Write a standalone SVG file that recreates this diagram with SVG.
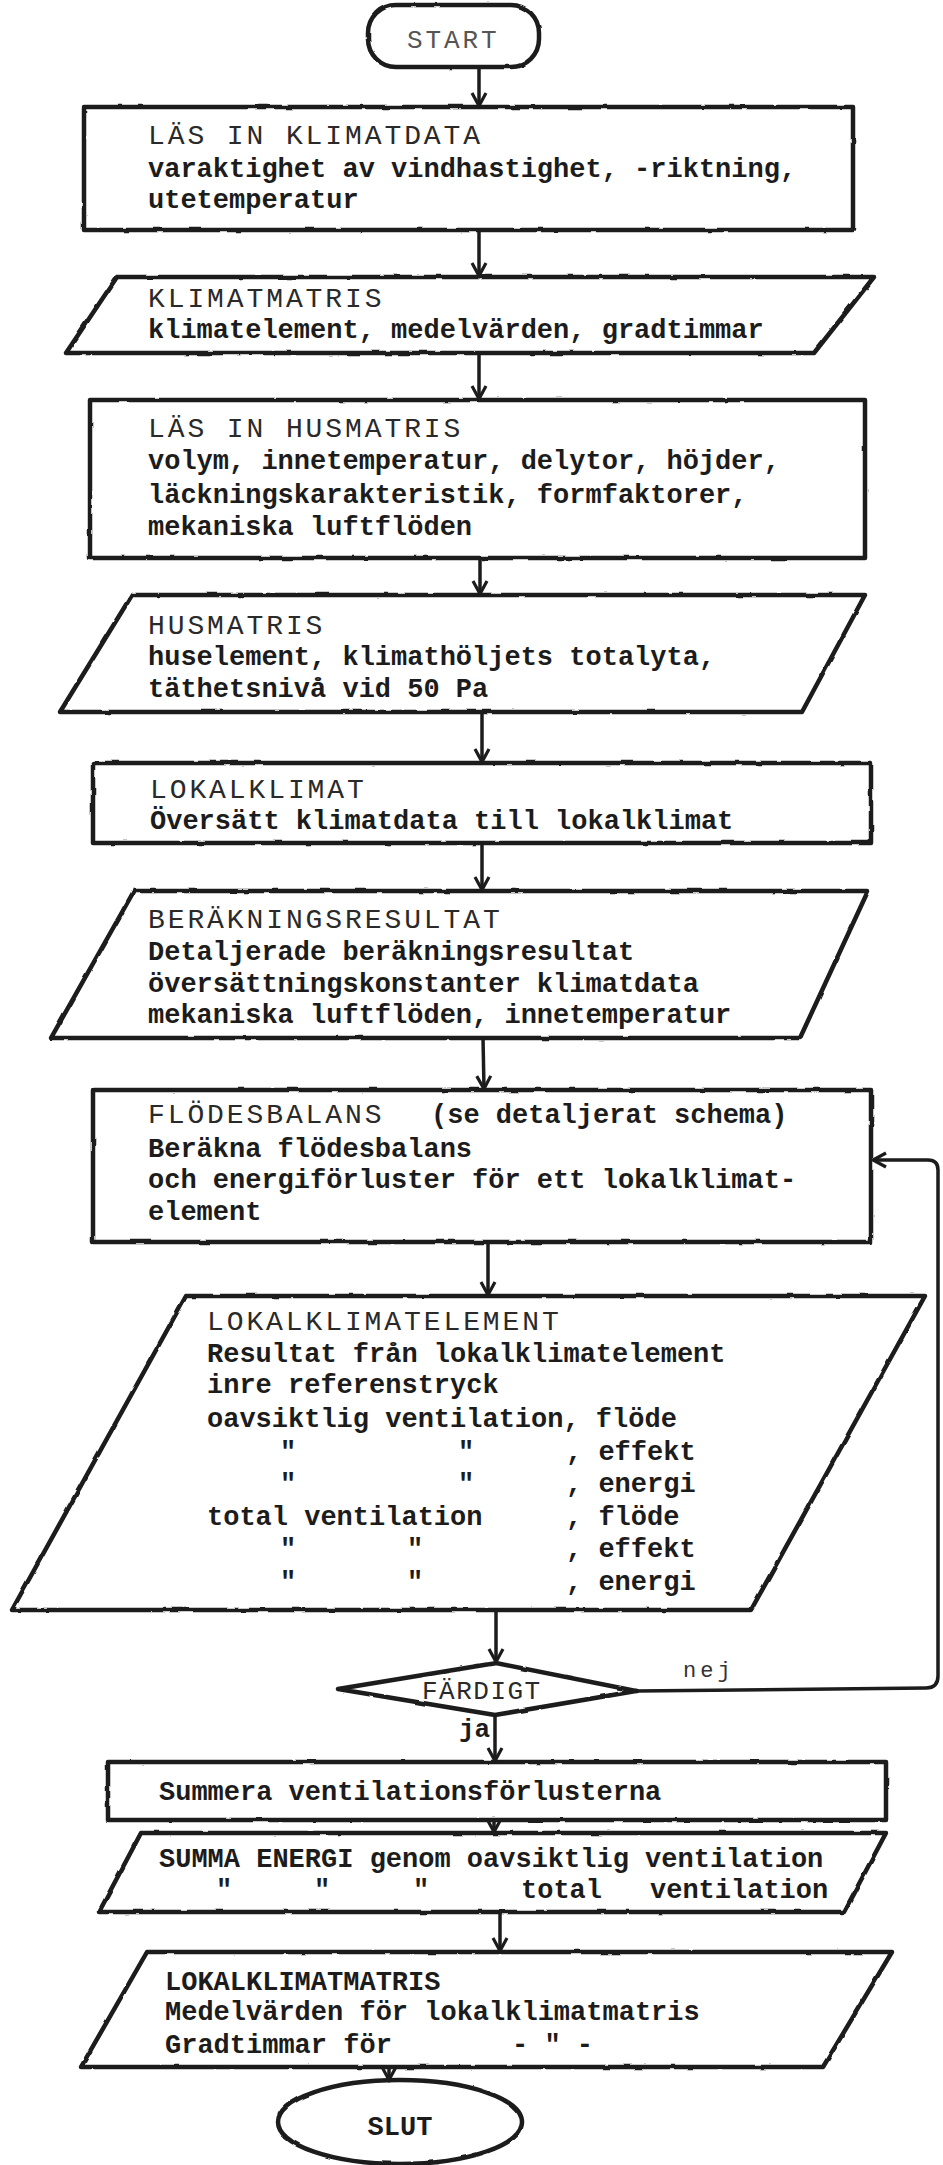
<svg xmlns="http://www.w3.org/2000/svg" width="943" height="2165" viewBox="0 0 943 2165">
<style>
.shape{fill:#fff;stroke:#1c1c1c;stroke-width:4.5;stroke-linejoin:round}
.cap{font-family:"Liberation Mono","Courier New",monospace;font-size:28px;letter-spacing:2.9px;fill:#2a2a2a}
.txt{font-family:"Liberation Mono","Courier New",monospace;font-size:27px;font-weight:bold;fill:#1c1c1c}
.thin{font-family:"Liberation Mono","Courier New",monospace;fill:#333}
.conn{fill:none;stroke:#1c1c1c;stroke-width:3.5}
</style>
<defs>
<filter id="rough" x="-5%" y="-5%" width="110%" height="110%">
<feTurbulence type="fractalNoise" baseFrequency="0.06" numOctaves="2" seed="3"/>
<feDisplacementMap in="SourceGraphic" scale="2.5" xChannelSelector="R" yChannelSelector="G"/>
</filter>
<marker id="arr" markerUnits="userSpaceOnUse" markerWidth="22" markerHeight="22" refX="15" refY="9" orient="auto">
<path d="M2,2 L15,9 L2,16" fill="none" stroke="#1c1c1c" stroke-width="3.2"/>
</marker>
</defs>
<rect width="943" height="2165" fill="#fff"/>

<g id="start">
<rect class="shape" x="368" y="5" width="171" height="62" rx="28" filter="url(#rough)"/>
<text class="cap" x="407" y="48" style="font-size:26px;fill:#555">START</text>
</g>

<g id="las-klimatdata">
<rect class="shape" x="84" y="107" width="769" height="123" filter="url(#rough)"/>
<text class="cap" x="148" y="144">LÄS IN KLIMATDATA</text>
<text class="txt" x="148" y="177">varaktighet av vindhastighet, -riktning,</text>
<text class="txt" x="148" y="208">utetemperatur</text>
</g>

<g id="klimatmatris">
<polygon class="shape" points="117,277 874,277 814,353 66,353" filter="url(#rough)"/>
<text class="cap" x="148" y="307">KLIMATMATRIS</text>
<text class="txt" x="148" y="338">klimatelement, medelvärden, gradtimmar</text>
</g>

<g id="las-husmatris">
<rect class="shape" x="90" y="400" width="775" height="158" filter="url(#rough)"/>
<text class="cap" x="148" y="437">LÄS IN HUSMATRIS</text>
<text class="txt" x="148" y="469">volym, innetemperatur, delytor, höjder,</text>
<text class="txt" x="148" y="503">läckningskarakteristik, formfaktorer,</text>
<text class="txt" x="148" y="535">mekaniska luftflöden</text>
</g>

<g id="husmatris">
<polygon class="shape" points="132,595 865,595 802,712 60,712" filter="url(#rough)"/>
<text class="cap" x="148" y="634">HUSMATRIS</text>
<text class="txt" x="148" y="665">huselement, klimathöljets totalyta,</text>
<text class="txt" x="148" y="697">täthetsnivå vid 50 Pa</text>
</g>

<g id="lokalklimat">
<rect class="shape" x="93" y="763" width="778" height="80" filter="url(#rough)"/>
<text class="cap" x="150" y="798">LOKALKLIMAT</text>
<text class="txt" x="150" y="829">Översätt klimatdata till lokalklimat</text>
</g>

<g id="berakningsresultat">
<polygon class="shape" points="134,891 868,891 800,1038 51,1038" filter="url(#rough)"/>
<text class="cap" x="148" y="928">BERÄKNINGSRESULTAT</text>
<text class="txt" x="148" y="960">Detaljerade beräkningsresultat</text>
<text class="txt" x="148" y="992">översättningskonstanter klimatdata</text>
<text class="txt" x="148" y="1023">mekaniska luftflöden, innetemperatur</text>
</g>

<g id="flodesbalans">
<rect class="shape" x="93" y="1090" width="778" height="152" filter="url(#rough)"/>
<text class="cap" x="148" y="1123">FLÖDESBALANS</text>
<text class="txt" x="431" y="1123">(se detaljerat schema)</text>
<text class="txt" x="148" y="1157">Beräkna flödesbalans</text>
<text class="txt" x="148" y="1188">och energiförluster för ett lokalklimat-</text>
<text class="txt" x="148" y="1220">element</text>
</g>

<g id="lokalklimatelement">
<polygon class="shape" points="186,1296 925,1296 751,1610 12,1610" filter="url(#rough)"/>
<text class="cap" x="207" y="1330">LOKALKLIMATELEMENT</text>
<text class="txt" x="207" y="1362">Resultat från lokalklimatelement</text>
<text class="txt" x="207" y="1393">inre referenstryck</text>
<text class="txt" x="207" y="1427">oavsiktlig ventilation, flöde</text>
<text class="txt" y="1460"><tspan x="280">"</tspan><tspan x="458">"</tspan><tspan x="566">, effekt</tspan></text>
<text class="txt" y="1492"><tspan x="280">"</tspan><tspan x="458">"</tspan><tspan x="566">, energi</tspan></text>
<text class="txt" y="1525"><tspan x="207">total ventilation</tspan><tspan x="566">, flöde</tspan></text>
<text class="txt" y="1557"><tspan x="280">"</tspan><tspan x="407">"</tspan><tspan x="566">, effekt</tspan></text>
<text class="txt" y="1590"><tspan x="280">"</tspan><tspan x="407">"</tspan><tspan x="566">, energi</tspan></text>
</g>

<g id="fardigt">
<polygon class="shape" points="338,1689 496,1663 636,1691 495,1715" filter="url(#rough)"/>
<text class="cap" x="422" y="1699" style="font-size:26px;letter-spacing:1.5px">FÄRDIGT</text>
</g>

<g id="summera">
<rect class="shape" x="108" y="1762" width="778" height="58" filter="url(#rough)"/>
<text class="txt" x="159" y="1800">Summera ventilationsförlusterna</text>
</g>

<g id="summa-energi">
<polygon class="shape" points="141,1833 886,1833 844,1912 99,1912" filter="url(#rough)"/>
<text class="txt" x="159" y="1867">SUMMA ENERGI genom oavsiktlig ventilation</text>
<text class="txt" y="1898"><tspan x="216">"</tspan><tspan x="314">"</tspan><tspan x="413">"</tspan><tspan x="521">total</tspan><tspan x="650">ventilation</tspan></text>
</g>

<g id="lokalklimatmatris">
<polygon class="shape" points="147,1952 892,1952 823,2067 81,2067" filter="url(#rough)"/>
<text class="txt" x="165" y="1990">LOKALKLIMATMATRIS</text>
<text class="txt" x="165" y="2020">Medelvärden för lokalklimatmatris</text>
<text class="txt" y="2053"><tspan x="165">Gradtimmar för</tspan><tspan x="512">- " -</tspan></text>
</g>

<g id="slut">
<ellipse class="shape" cx="400" cy="2122" rx="122" ry="42" filter="url(#rough)"/>
<text class="txt" x="400" y="2135" text-anchor="middle">SLUT</text>
</g>

<g id="connectors">
<line class="conn" x1="479" y1="67" x2="479" y2="106" marker-end="url(#arr)"/>
<line class="conn" x1="479" y1="230" x2="479" y2="276" marker-end="url(#arr)"/>
<line class="conn" x1="479" y1="353" x2="479" y2="399" marker-end="url(#arr)"/>
<line class="conn" x1="480" y1="558" x2="480" y2="594" marker-end="url(#arr)"/>
<line class="conn" x1="482" y1="712" x2="482" y2="762" marker-end="url(#arr)"/>
<line class="conn" x1="482" y1="843" x2="482" y2="890" marker-end="url(#arr)"/>
<line class="conn" x1="483" y1="1038" x2="484" y2="1089" marker-end="url(#arr)"/>
<line class="conn" x1="488" y1="1242" x2="488" y2="1295" marker-end="url(#arr)"/>
<line class="conn" x1="496" y1="1610" x2="496" y2="1662" marker-end="url(#arr)"/>
<line class="conn" x1="495" y1="1715" x2="495" y2="1761" marker-end="url(#arr)"/>
<line class="conn" x1="494" y1="1820" x2="494" y2="1832" marker-end="url(#arr)"/>
<line class="conn" x1="500" y1="1912" x2="500" y2="1951" marker-end="url(#arr)"/>
<line class="conn" x1="389" y1="2067" x2="389" y2="2080" marker-end="url(#arr)"/>
<path class="conn" d="M636,1691 L926,1688 Q938,1688 938,1676 L938,1170 Q938,1160 928,1160 L873,1160" marker-end="url(#arr)"/>
<text class="thin" x="683" y="1677" style="font-size:22px;letter-spacing:4px">nej</text>
<text class="txt" x="459" y="1737" style="font-size:26px">ja</text>
</g>
</svg>
